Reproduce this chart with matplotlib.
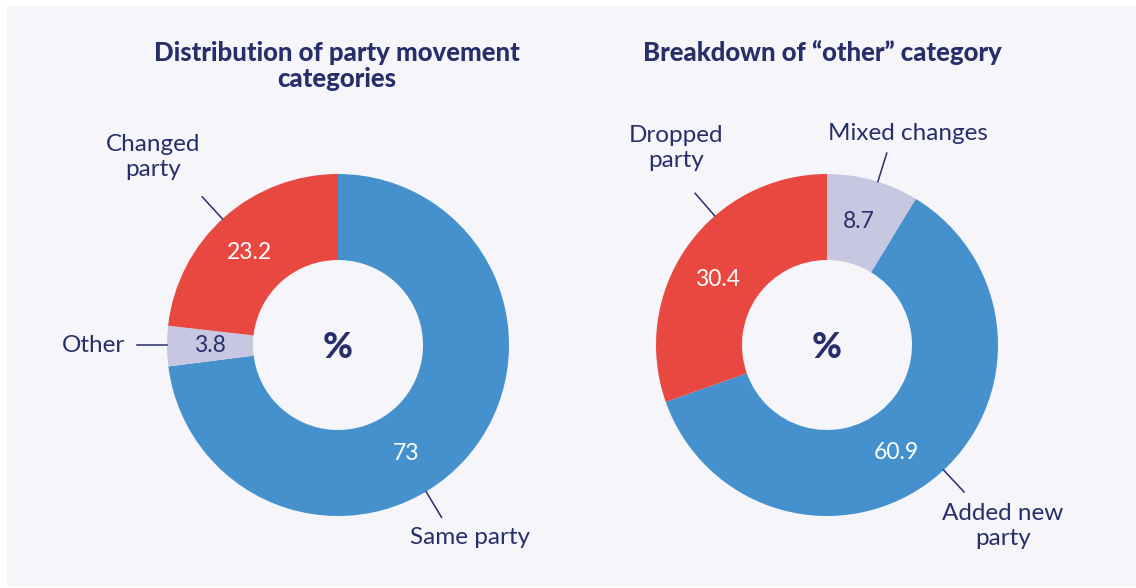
import matplotlib.pyplot as plt
from matplotlib.patches import Rectangle
import numpy as np

plt.rcParams['font.family'] = ['Lato', 'DejaVu Sans']

# data
left_title = 'Distribution of party movement\ncategories'
left_labels = ['Same party', 'Other', 'Changed\nparty']
left_values = [73, 3.8, 23.2]
left_text = ['73', '3.8', '23.2']

right_title = 'Breakdown of \u201cother\u201d category'
right_labels = ['Mixed changes', 'Added new\nparty', 'Dropped\nparty']
right_values = [8.7, 60.9, 30.4]
right_text = ['8.7', '60.9', '30.4']

blue, red, lav = '#4591cd', '#e94841', '#c8c7e2'
navy = '#272f6a'
bg = '#f5f5fa'

W, H = 1136, 588
fig = plt.figure(figsize=(W / 100, H / 100), dpi=100, facecolor='white')
ax = fig.add_axes([0, 0, 1, 1])


def Y(y):
    # pixel row -> data y (y axis goes up)
    return H - y


ax.add_patch(Rectangle((7, 1), W - 7, H - 7, color=bg, lw=0, zorder=0))

R, w = 171, 86


def donut(cx, cy, values, colors, text, tcolors, labels, val_ang, lead_ang, lab_pos, lab_ha):
    ax.pie(values, colors=colors, startangle=90, counterclock=False,
           radius=R, center=(cx, Y(cy)),
           wedgeprops=dict(width=w, linewidth=0))
    for t, c, a in zip(text, tcolors, val_ang):
        r = R - w / 2
        ax.text(cx + r * np.cos(np.radians(a)), Y(cy) + r * np.sin(np.radians(a)), t,
                color=c, fontsize=16.5, ha='center', va='center')
    for lab, a, (lx, ly), ha in zip(labels, lead_ang, lab_pos, lab_ha):
        c, s = np.cos(np.radians(a)), np.sin(np.radians(a))
        ax.plot([cx + R * c, cx + (R + 30) * c], [Y(cy) + R * s, Y(cy) + (R + 30) * s],
                color=navy, lw=1.1)
        ax.text(lx, Y(ly), lab, color=navy, fontsize=17.5, ha=ha, va='center',
                linespacing=1.24)
    ax.text(cx, Y(cy + 2), '%', color=navy, fontsize=26, fontweight='black',
            ha='center', va='center')


donut(338, 345, left_values, [blue, lav, red], left_text, [ 'white', navy, 'white'],
      left_labels, [-58, 180, 133.7], [-59, 180, 132.5],
      [(470, 537), (125, 345), (153, 157)], ['center', 'right', 'center'])
donut(827, 345, right_values, [lav, blue, red], right_text, [navy, 'white', 'white'],
      right_labels, [75.6, -57, 149], [72.7, -47, 131],
      [(908, 133), (1003, 526), (676, 148)], ['center', 'center', 'center'])

ax.text(337, Y(66), left_title, color=navy, fontsize=18.5, fontweight='black',
        ha='center', va='center', linespacing=1.1)
ax.text(822, Y(52), right_title, color=navy, fontsize=18.5, fontweight='black',
        ha='center', va='center')

ax.set_xlim(0, W)
ax.set_ylim(0, H)
ax.set_aspect('equal')
ax.axis('off')

fig.savefig('out.png', dpi=100, facecolor='white')
